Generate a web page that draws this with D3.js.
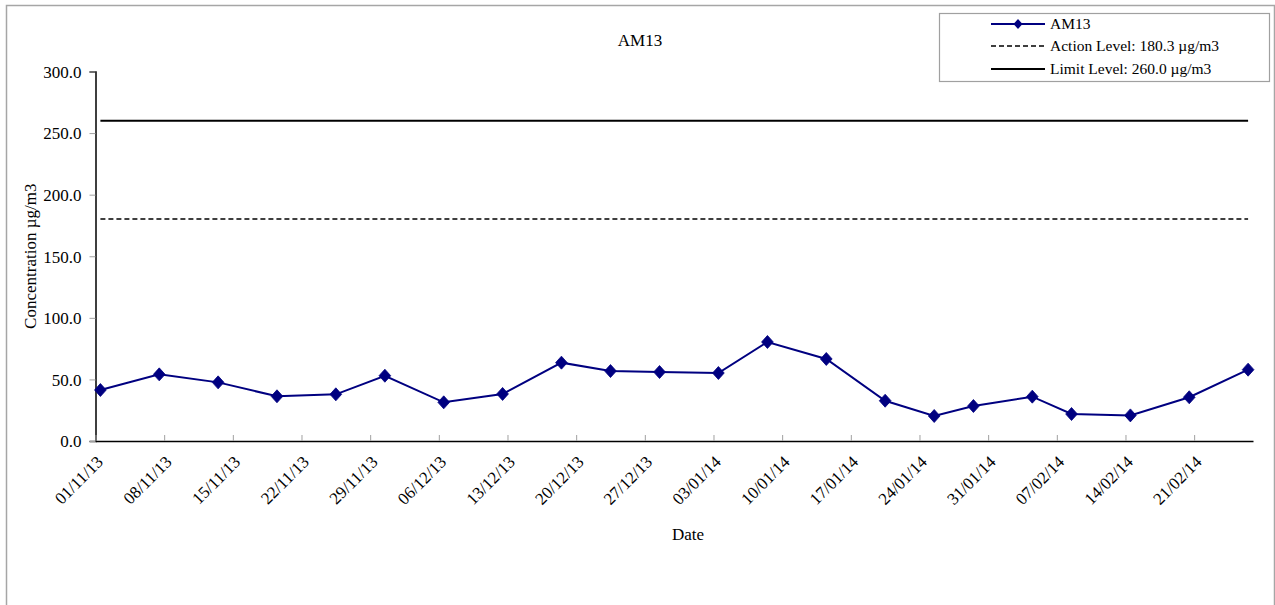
<!DOCTYPE html>
<html>
<head>
<meta charset="utf-8">
<script src="https://cdn.jsdelivr.net/npm/d3@7"></script>
<style>
  html, body { margin: 0; padding: 0; background: #fff; }
  svg { display: block; font-family: "Liberation Serif", "Times New Roman", serif; }
</style>
</head>
<body>
<svg id="chart" width="1275" height="605"></svg>
<script>
// ---- data ----
const seriesName = "AM13";
const sampleDates = ["01/11/13","07/11/13","13/11/13","19/11/13","25/11/13","30/11/13",
  "06/12/13","12/12/13","18/12/13","23/12/13","28/12/13","03/01/14","08/01/14",
  "14/01/14","20/01/14","25/01/14","29/01/14","04/02/14","08/02/14","14/02/14",
  "20/02/14","26/02/14"];
const values = [41.4, 54.1, 47.6, 36.3, 37.9, 53.0, 31.4, 38.2, 63.6, 56.8, 56.0,
  55.2, 80.4, 66.6, 32.7, 20.3, 28.4, 36.0, 21.9, 20.8, 35.5, 57.9];
const actionLevel = 180.3;
const limitLevel = 260.0;
const xTickLabels = ["01/11/13","08/11/13","15/11/13","22/11/13","29/11/13","06/12/13",
  "13/12/13","20/12/13","27/12/13","03/01/14","10/01/14","17/01/14","24/01/14",
  "31/01/14","07/02/14","14/02/14","21/02/14"];
const xDomainLabels = ["01/11/13", "27/02/14"];
const yTicks = [0, 50, 100, 150, 200, 250, 300];
const legendLabels = ["AM13", "Action Level: 180.3 \u00b5g/m3", "Limit Level: 260.0 \u00b5g/m3"];

// ---- setup ----
const parse = d3.utcParse("%d/%m/%y");
const mid = d => d3.utcHour.offset(parse(d), 12); // Excel date axis: points centred in day
const svg = d3.select("#chart");
const plot = { left: 95.5, right: 1253, top: 71.5, bottom: 441 };

const x = d3.scaleUtc().domain(xDomainLabels.map(parse)).range([plot.left, plot.right]);
const y = d3.scaleLinear().domain([0, 300]).range([plot.bottom, plot.top]);

// outer chart border
svg.append("rect").attr("x", 6.5).attr("y", 5.5).attr("width", 1268).attr("height", 640)
  .attr("fill", "none").attr("stroke", "#a6a6a6").attr("stroke-width", 1.5);

// title
svg.append("text").attr("x", 640).attr("y", 46).attr("text-anchor", "middle")
  .style("font-size", "17px").text(seriesName);

// y axis
const yAxis = svg.append("g").attr("transform", `translate(${plot.left},0)`)
  .call(d3.axisLeft(y).tickValues(yTicks).tickFormat(d3.format(".1f")).tickSizeOuter(0).tickSize(6).tickPadding(8));
yAxis.select(".domain").attr("stroke", "#000").attr("stroke-width", 1.5);
yAxis.selectAll(".tick line").attr("stroke", "#a0a0a0");
yAxis.selectAll(".tick text").style("font-size", "17px").attr("fill", "#000")
  .style("font-family", "Liberation Serif, serif").attr("dy", "0.34em");

// x axis
const xTickDates = xTickLabels.map(parse);
const xAxis = svg.append("g").attr("transform", `translate(0,${plot.bottom})`)
  .call(d3.axisBottom(x).tickValues(xTickDates).tickFormat(d3.utcFormat("%d/%m/%y"))
    .tickSizeOuter(0).tickSize(0));
xAxis.select(".domain").attr("stroke", "#000").attr("stroke-width", 1.5);
xAxis.selectAll(".tick line").attr("y2", -6).attr("stroke", "#a0a0a0");
xAxis.selectAll(".tick text")
  .style("font-size", "17px").style("font-family", "Liberation Serif, serif").attr("fill", "#000")
  .attr("text-anchor", "end").attr("dy", null).attr("y", null)
  .attr("transform", "translate(8,22) rotate(-45)");

// axis titles
svg.append("text").attr("x", 688).attr("y", 540).attr("text-anchor", "middle")
  .style("font-size", "17px").text("Date");
svg.append("text").attr("transform", `translate(36,${(plot.top + plot.bottom) / 2}) rotate(-90)`)
  .attr("text-anchor", "middle").style("font-size", "17px").text("Concentration \u00b5g/m3");

// level lines (spanning first to last sample)
const firstX = x(mid(sampleDates[0])), lastX = x(mid(sampleDates[sampleDates.length - 1]));
svg.append("line").attr("x1", firstX).attr("x2", lastX)
  .attr("y1", y(limitLevel)).attr("y2", y(limitLevel))
  .attr("stroke", "#000").attr("stroke-width", 2);
svg.append("line").attr("x1", firstX).attr("x2", lastX)
  .attr("y1", y(actionLevel)).attr("y2", y(actionLevel))
  .attr("stroke", "#000").attr("stroke-width", 1.6).attr("stroke-dasharray", "5,3");

// data series
const data = sampleDates.map((d, i) => ({ date: mid(d), value: values[i] }));
const navy = "#000080";
svg.append("path").datum(data)
  .attr("fill", "none").attr("stroke", navy).attr("stroke-width", 2)
  .attr("d", d3.line().x(d => x(d.date)).y(d => y(d.value)));
const diamond = (cx, cy, r) => `M${cx},${cy - r}L${cx + r * 0.9},${cy}L${cx},${cy + r}L${cx - r * 0.9},${cy}Z`;
svg.append("g").selectAll("path").data(data).join("path")
  .attr("d", d => diamond(x(d.date), y(d.value), 6.5))
  .attr("fill", navy).attr("stroke", navy).attr("stroke-width", 0.8);

// legend
const lg = svg.append("g");
lg.append("rect").attr("x", 939.5).attr("y", 13.5).attr("width", 330).attr("height", 68)
  .attr("fill", "#fff").attr("stroke", "#a0a0a0").attr("stroke-width", 1.2);
const rows = [24, 46, 69];
const lx1 = 991, lx2 = 1045, tx = 1050;
lg.append("line").attr("x1", lx1).attr("x2", lx2).attr("y1", rows[0]).attr("y2", rows[0])
  .attr("stroke", navy).attr("stroke-width", 2);
lg.append("path").attr("d", diamond((lx1 + lx2) / 2, rows[0], 5)).attr("fill", navy);
lg.append("line").attr("x1", lx1).attr("x2", lx2).attr("y1", rows[1]).attr("y2", rows[1])
  .attr("stroke", "#000").attr("stroke-width", 1.6).attr("stroke-dasharray", "5,3");
lg.append("line").attr("x1", lx1).attr("x2", lx2).attr("y1", rows[2]).attr("y2", rows[2])
  .attr("stroke", "#000").attr("stroke-width", 2);
lg.selectAll("text.lbl").data(legendLabels).join("text").attr("class", "lbl")
  .attr("x", tx).attr("y", (d, i) => rows[i]).attr("dy", "0.35em")
  .style("font-size", "15.5px").text(d => d);
</script>
</body>
</html>
